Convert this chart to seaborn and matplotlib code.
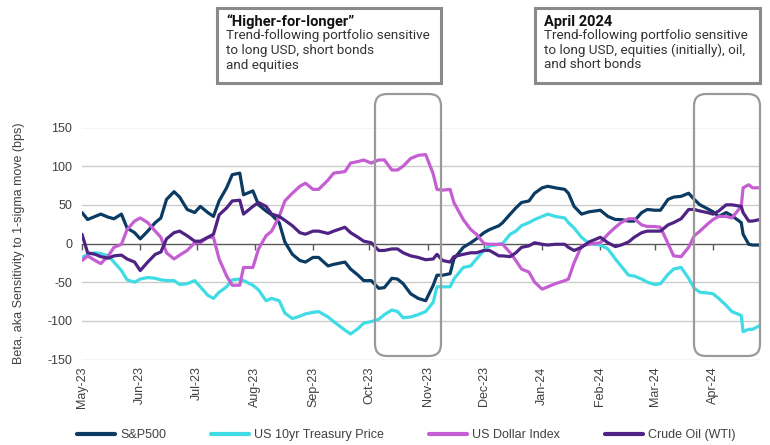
import numpy as np
import pandas as pd
import matplotlib
matplotlib.use("Agg")
import matplotlib.pyplot as plt
import matplotlib.dates as mdates
from matplotlib.patches import FancyBboxPatch, Rectangle
from matplotlib.ticker import FuncFormatter
import seaborn as sns

# ---------------- data ----------------
start_date = "2023-05-01"
end_offset = 361
day_offsets = [0, 3, 7, 10, 14, 17, 21, 24, 28, 31, 35, 39, 42, 45, 49, 52, 56, 60, 63, 67, 70, 73, 77, 80, 84, 86,
               91, 94, 98, 101, 105, 108, 112, 116, 119, 123, 126, 131, 134, 140, 143, 147, 150, 154, 158, 161, 165,
               168, 171, 175, 179,
               183, 187, 189, 192, 196, 198, 203, 207, 210, 214, 217, 222, 224, 228, 231, 234, 238, 241, 245, 248, 252,
               257, 259, 262, 266, 270,
               276, 280, 284, 287, 291, 294, 298, 301, 305, 308, 312, 315, 319, 323, 326, 329, 333, 336, 339, 343, 346,
               351, 352, 355, 357, 361]

sp500 = [40, 31, 35, 38, 34, 32, 38, 20, 14, 6, 16, 27, 33, 57, 67, 60, 44, 40, 48, 40, 35, 55, 72, 89, 91, 63,
         68, 50, 42, 37, 27, 2, -14, -22, -24, -18, -18, -29, -27, -24, -33, -41, -48, -48, -58, -57, -45, -46, -52,
         -65, -71,
         -74, -54, -41, -41, -39, -20, -5, 1, 6, 14, 18, 23, 27, 38, 46, 53, 55, 65, 72, 74, 72, 70, 65, 48, 38, 41,
         43, 35, 31, 31, 29, 29, 40, 44, 43, 43, 57, 60, 61, 65, 57, 50, 45, 41, 35, 40, 36, 27, 12, -1, -2, -2]

ust10 = [-18, -14, -12, -13, -16, -24, -35, -47, -50, -46, -44, -45, -47, -48, -48, -53, -52, -48, -56, -67, -71, -63,
         -56, -47, -46, -48,
         -54, -60, -74, -71, -74, -90, -97, -94, -91, -89, -88, -95, -101, -112, -117, -110, -103, -101, -98, -92,
         -86, -88, -96, -95, -92,
         -88, -76, -56, -56, -56, -46, -31, -29, -20, -9, -3, -1, 0, 12, 16, 23, 27, 31, 35, 38, 35, 33, 27, 20, 8, 0,
         -2, -7, -20, -29, -41, -42, -46, -50, -53, -52, -40, -33, -31, -45, -58, -63, -64, -65, -71, -80, -88, -93,
         -114, -111, -111, -106]

dxy = [-22, -16, -22, -26, -16, -5, -1, 18, 29, 33, 27, 16, 8, -12, -20, -15, -9, 1, 1, 8, 8, -20, -42, -54, -54, -31,
       -31, -7, 10, 16, 35, 55, 65, 74, 78, 70, 70, 82, 91, 93, 104, 106, 108, 104, 108, 108, 95, 95, 100, 110, 114,
       115, 90, 70, 69, 70, 53, 31, 18, 12, 0, -1, -1, -1, -12, -22, -33, -37, -50, -59, -56, -52, -48, -46, -25, -3,
       -1,
       1, 12, 21, 27, 32, 32, 24, 22, 22, 21, 0, -16, -17, -5, 10, 16, 25, 31, 35, 35, 33, 48, 72, 76, 72, 72]

wti = [12, -12, -14, -17, -19, -16, -15, -20, -24, -35, -24, -14, -11, 6, 14, 16, 10, 3, 3, 8, 12, 37, 46, 55, 56, 38,
       48, 53, 48, 38, 35, 30, 23, 14, 12, 16, 16, 13, 16, 21, 14, 8, 3, 1, -9, -9, -7, -7, -12, -16, -18,
       -21, -20, -14, -22, -24, -17, -14, -12, -12, -9, -9, -16, -16, -17, -12, -5, -3, 1, -1, -2, -1, -1, -5, -9, -5,
       2,
       8, 1, -4, -2, 2, 8, 14, 16, 16, 16, 24, 27, 32, 44, 44, 42, 40, 38, 42, 50, 50, 48, 40, 29, 29, 31]

series_names = ["S&P500", "US 10yr Treasury Price", "US Dollar Index", "Crude Oil (WTI)"]
series_colors = ["#0b3a63", "#3fdce6", "#c55ed2", "#4e2383"]
y_ticks = [-150, -100, -50, 0, 50, 100, 150]
y_label = "Beta, aka Sensitivity to 1-sigma move (bps)"

box1_title = "\u201cHigher-for-longer\u201d"
box1_lines = ["Trend-following portfolio sensitive", "to long USD, short bonds", "and equities"]
box2_title = "April 2024"
box2_lines = ["Trend-following portfolio sensitive", "to long USD, equities (initially), oil,", "and short bonds"]

# ---------------- frame ----------------
dates = pd.to_datetime(start_date) + pd.to_timedelta(day_offsets, unit="D")
df = pd.concat([
    pd.DataFrame({"date": dates, "value": vals, "series": name})
    for name, vals in zip(series_names, [sp500, ust10, dxy, wti])
], ignore_index=True)

sns.set_theme(style="white")
plt.rcParams["font.family"] = ["Liberation Sans", "DejaVu Sans"]

W, H = 770, 445
fig = plt.figure(figsize=(W / 100, H / 100), dpi=100)
ax = fig.add_axes([82 / W, 1 - 359.5 / H, (760 - 82) / W, (359.5 - 127.5) / H])

# gridlines (under data)
for yv in y_ticks:
    if yv != 0:
        ax.axhline(yv, color="#cccccc", lw=1.0, zorder=0)

sns.lineplot(data=df, x="date", y="value", hue="series", hue_order=series_names,
             palette=dict(zip(series_names, series_colors)), lw=2.3, ax=ax, legend=True)

ax.set_ylim(-150, 150)
ax.set_xlim(pd.to_datetime(start_date), pd.to_datetime(start_date) + pd.Timedelta(days=end_offset))
ax.set_yticks(y_ticks)
ax.yaxis.set_major_formatter(FuncFormatter(lambda v, p: f"{int(v)}".replace("\u2212", "-")))
ax.xaxis.set_major_locator(mdates.MonthLocator())
ax.xaxis.set_major_formatter(mdates.DateFormatter("%b-%y"))
ax.tick_params(axis="x", length=0, pad=5, labelsize=9, labelcolor="#404040", rotation=90)
ax.tick_params(axis="y", length=0, pad=7, labelsize=9, labelcolor="#404040")
for s in ax.spines.values():
    s.set_visible(False)
ax.set_xlabel("")
ax.set_ylabel(y_label, fontsize=9, color="#404040", labelpad=16)
ax.grid(False)

# zero axis with month ticks
secax = ax.secondary_xaxis(0.5)
secax.set_alignment("bottom")
secax.xaxis.set_major_locator(mdates.MonthLocator())
secax.tick_params(axis="x", length=4, width=1, color="#595959", labelbottom=False, labeltop=False, direction="out")
for s in secax.spines.values():
    s.set_color("#595959")
    s.set_linewidth(1)

# legend
sns.move_legend(ax, "center left", bbox_to_anchor=(77 / W, 1 - 435 / H), bbox_transform=fig.transFigure,
                ncol=4, frameon=False, title=None, fontsize=9, handlelength=3.0, handletextpad=0.45,
                columnspacing=3.6, borderpad=0, borderaxespad=0)
leg = ax.get_legend()
for line in leg.get_lines():
    line.set_linewidth(3)
for t in leg.get_texts():
    t.set_color("#404040")

# ---------------- annotations (pixel layout) ----------------
def px(x, y):
    return x / 100, (H - y) / 100

tr = fig.dpi_scale_trans
for (x0, x1) in [(375, 441), (694, 760)]:
    bx, by = px(x0, 356)
    fig.add_artist(FancyBboxPatch((bx, by), (x1 - x0) / 100, (356 - 94) / 100,
                                  boxstyle="round,pad=0,rounding_size=0.12", transform=tr,
                                  fill=False, ec="#9a9a9a", lw=1.6, zorder=5))

for (x0, x1, title, lines) in [(217, 441, box1_title, box1_lines), (535, 760, box2_title, box2_lines)]:
    bx, by = px(x0, 83)
    fig.add_artist(Rectangle((bx, by), (x1 - x0) / 100, 0.75, transform=tr,
                             fill=True, fc="white", ec="#8a8a8a", lw=2.2, zorder=5))
    tx, ty = px(x0 + 9, 22)
    fig.text(tx, ty, title, transform=tr, fontsize=10.5, fontweight="bold", color="#111111",
             va="center", ha="left", family=["Roboto", "DejaVu Sans"], zorder=6)
    for i, ln in enumerate(lines):
        tx, ty = px(x0 + 9, 36 + 14.5 * i)
        fig.text(tx, ty, ln, transform=tr, fontsize=9.7, color="#333333",
                 va="center", ha="left", family=["Roboto", "DejaVu Sans"], zorder=6)

fig.savefig("out.png", dpi=100)
